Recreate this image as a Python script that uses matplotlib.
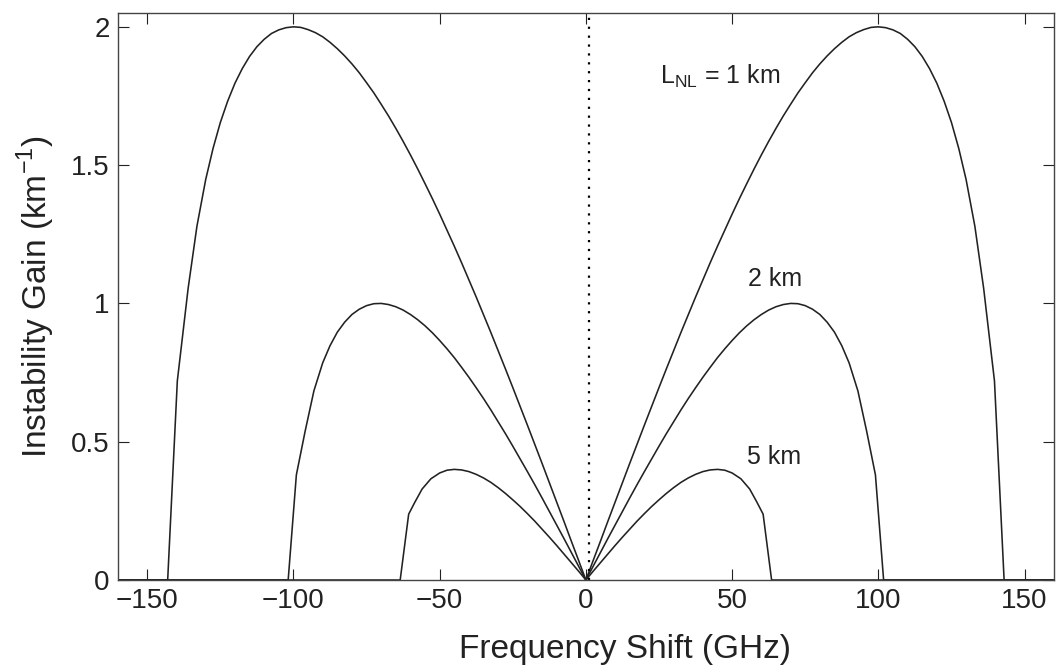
import numpy as np
import matplotlib
matplotlib.use("Agg")
import matplotlib.pyplot as plt

plt.rcParams['font.family'] = ['Liberation Sans', 'DejaVu Sans']

# positive-frequency half of each gain curve (GHz, km^-1)
f_1km = [0, 2.5, 5, 7.5, 10, 12.5, 15, 17.5, 20, 22.5, 25, 27.5, 30, 32.5, 35, 37.5,
         40, 42.5, 45, 47.5, 50, 52.5, 55, 57.5, 60, 62.5, 65, 67.5, 70, 72.5, 75,
         77.5, 80, 82.5, 85, 87.5, 90, 92.5, 95, 97.5, 100, 102.5, 105, 107.5, 110,
         112.5, 115, 117.5, 120, 122.5, 125, 127.5, 130, 133, 136, 139.7, 143, 160]
g_1km = [0, 0.071, 0.141, 0.212, 0.282, 0.352, 0.422, 0.491, 0.560, 0.628, 0.696,
         0.763, 0.829, 0.895, 0.959, 1.023, 1.085, 1.147, 1.207, 1.265, 1.323, 1.379,
         1.433, 1.486, 1.537, 1.586, 1.633, 1.678, 1.720, 1.761, 1.798, 1.834, 1.866,
         1.895, 1.921, 1.944, 1.964, 1.979, 1.990, 1.998, 2.000, 1.997, 1.989, 1.976,
         1.955, 1.928, 1.893, 1.849, 1.796, 1.731, 1.654, 1.560, 1.448, 1.279, 1.055,
         0.72, 0, 0]

f_2km = [0, 2.5, 5, 7.5, 10, 12.5, 15, 17.5, 20, 22.5, 25, 27.5, 30, 32.5, 35, 37.5,
         40, 42.5, 45, 47.5, 50, 52.5, 55, 57.5, 60, 62.5, 65, 67.5, 70, 72.5, 75,
         77.5, 80, 82.5, 85, 87.5, 90, 93, 96, 99, 101.8, 160]
g_2km = [0, 0.050, 0.100, 0.150, 0.199, 0.248, 0.297, 0.345, 0.392, 0.438, 0.484,
         0.529, 0.572, 0.615, 0.656, 0.695, 0.733, 0.769, 0.804, 0.836, 0.866, 0.894,
         0.919, 0.941, 0.960, 0.976, 0.988, 0.996, 1.000, 0.999, 0.992, 0.979, 0.960,
         0.932, 0.896, 0.847, 0.785, 0.684, 0.538, 0.38, 0, 0]

f_5km = [0, 2.5, 5, 7.5, 10, 12.5, 15, 17.5, 20, 22.5, 25, 27.5, 30, 32.5, 35, 37.5,
         40, 42.5, 45, 47.5, 50, 53, 56, 58.5, 60.6, 63.5, 160]
g_5km = [0, 0.032, 0.063, 0.094, 0.125, 0.155, 0.184, 0.213, 0.240, 0.266, 0.290,
         0.313, 0.334, 0.353, 0.369, 0.382, 0.392, 0.398, 0.400, 0.397, 0.387, 0.366,
         0.329, 0.281, 0.238, 0, 0]

curve_labels = [r'L$\mathregular{_{NL}}$ = 1 km', '2 km', '5 km']
label_pos = [(25.5, 1.82), (55.5, 1.09), (55, 0.445)]


def both_sides(f, g):
    f = np.asarray(f, float)
    g = np.asarray(g, float)
    return np.concatenate([-f[::-1], f[1:]]), np.concatenate([g[::-1], g[1:]])


fig = plt.figure(figsize=(10.57, 6.70), dpi=100)
ax = fig.add_axes([0.1116, 0.1343, 0.8854, 0.8463])

for f, g in [(f_1km, g_1km), (f_2km, g_2km), (f_5km, g_5km)]:
    x, y = both_sides(f, g)
    ax.plot(x, y, color='#222222', lw=1.15)

ax.plot([1, 1], [0, 2.05], color='black', lw=1.6, ls=(0, (1, 3)))

for txt, (x, y) in zip(curve_labels, label_pos):
    ax.text(x, y, txt, fontsize=18, color='#222222', ha='left', va='center')

ax.set_xlim(-160, 160)
ax.set_ylim(0, 2.05)
ax.set_xticks([-150, -100, -50, 0, 50, 100, 150])
ax.set_xticklabels(['\u2212150', '\u2212100', '\u221250', '0', '50', '100', '150'])
ax.set_yticks([0, 0.5, 1, 1.5, 2])
ax.set_yticklabels(['0', '0.5', '1', '1.5', '2'])
ax.tick_params(direction='in', top=True, right=True, length=8, width=0.8,
               labelsize=20, colors='#222222', pad=6)
for s in ax.spines.values():
    s.set_color('#444444')
    s.set_linewidth(1.0)

ax.set_xlabel('Frequency Shift (GHz)', fontsize=24, color='#222222')
ax.xaxis.set_label_coords(0.542, -0.096, transform=ax.transAxes)
ax.xaxis.label.set_va('top')
ax.set_ylabel(r'Instability Gain (km$^{\mathregular{-1}}$)', fontsize=24,
              color='#222222', labelpad=10)

fig.savefig('out.png', dpi=100)
